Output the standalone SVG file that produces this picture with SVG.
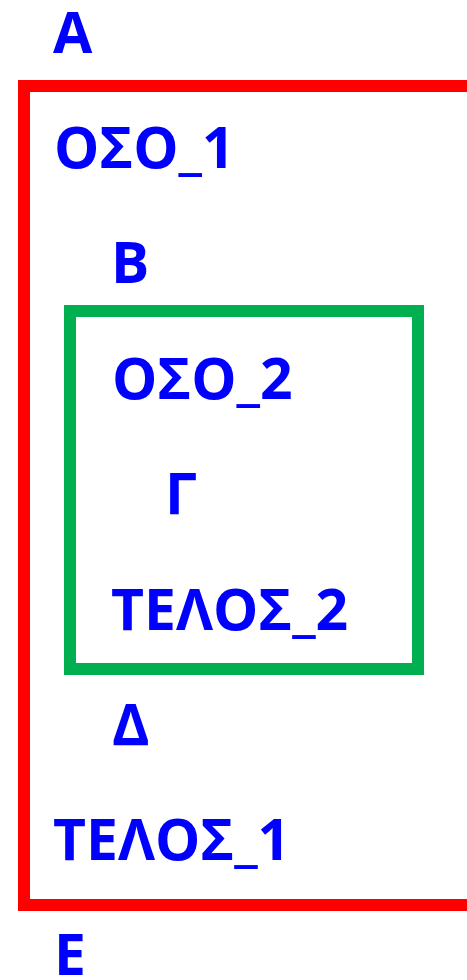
<svg xmlns="http://www.w3.org/2000/svg" width="467" height="980" viewBox="0 0 467 980">
  <style>
    .lbl { font-family: "Open Sans", "Liberation Sans", sans-serif; font-weight: bold; font-size: 57px; fill: #0000FF; }
    .outer { fill: none; stroke: #FF0000; stroke-width: 12; }
    .inner { fill: none; stroke: #00B050; stroke-width: 12; }
  </style>
  <rect x="0" y="0" width="467" height="980" fill="#FFFFFF"/>

  <!-- outer loop frame (open on the right) -->
  <g id="outer-loop">
    <rect class="outer" x="24" y="86" width="470" height="819"/>
  </g>

  <!-- inner loop frame -->
  <g id="inner-loop">
    <rect class="inner" x="70" y="311" width="348" height="358"/>
  </g>

  <g id="connectors"></g>

  <g id="n-a"><text class="lbl" x="53" y="53">Α</text></g>
  <g id="n-oso1"><text class="lbl" x="54" y="168">ΟΣΟ_1</text></g>
  <g id="n-b"><text class="lbl" x="111" y="283">Β</text></g>
  <g id="n-oso2"><text class="lbl" x="112" y="399">ΟΣΟ_2</text></g>
  <g id="n-g"><text class="lbl" x="165" y="514">Γ</text></g>
  <g id="n-telos2"><text class="lbl" x="111" y="630">ΤΕΛΟΣ_2</text></g>
  <g id="n-d"><text class="lbl" x="112" y="745">Δ</text></g>
  <g id="n-telos1"><text class="lbl" x="53" y="860">ΤΕΛΟΣ_1</text></g>
  <g id="n-e"><text class="lbl" x="54" y="975">Ε</text></g>
</svg>
